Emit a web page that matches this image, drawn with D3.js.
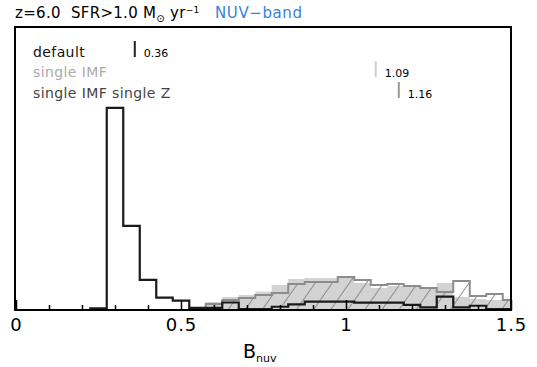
<!DOCTYPE html>
<html>
<head>
<meta charset="utf-8">
<script src="https://cdn.jsdelivr.net/npm/d3@7"></script>
<style>
  body { margin: 0; background: #fff; }
  text { font-family: "DejaVu Sans", sans-serif; }
</style>
</head>
<body>
<svg id="chart" width="537" height="367"></svg>
<script>
// bin centres (width 0.05)
var binCenters = [0.25, 0.30, 0.35, 0.40, 0.45, 0.50, 0.55, 0.60, 0.65, 0.70, 0.75, 0.80, 0.85,
                  0.90, 0.95, 1.00, 1.05, 1.10, 1.15, 1.20, 1.25, 1.30, 1.35, 1.40, 1.45, 1.50];
// default (black line)
var defaultVals = [0.8, 100, 41.6, 14.9, 6.1, 4.6, 1.1, 1.1, 3.7, 0.5, 0.5, 1.6, 2.8,
                   4.1, 4.1, 4.1, 3.6, 3.6, 3.6, 2.5, 1.3, 6.6, 1.3, 2.1, 0.5, 0.5];
// single IMF (light grey fill)
var singleImfVals = [0, 0, 0, 0, 0, 0, 0.5, 4, 6.4, 7.4, 9.2, 12.4, 15.3,
                     15.8, 15.8, 16.6, 13.4, 10.9, 11.9, 11.4, 10.4, 13.4, 6.4, 5.4, 5, 4.5];
// single IMF single Z (hatched)
var singleZVals = [0, 0, 0, 0, 0, 0, 0.7, 3, 5, 5.9, 7.4, 8.4, 12.9,
                   13.9, 13.9, 16.3, 14.9, 12.4, 12.9, 11.9, 10.9, 8.9, 14.4, 6.9, 7.9, 5];
var medians = [0.36, 1.09, 1.16];
var legendNames = ["default", "single IMF", "single IMF single Z"];
var legendColors = ["#111", "#aaa", "#444"];
var markerColors = ["#222", "#d0d0d0", "#999"];
var xTicksMajor = [0, 0.5, 1, 1.5];
var binW = 0.05;

var svg = d3.select("#chart");
var x = d3.scaleLinear().domain([0, 1.5]).range([16, 511]);
var y = d3.scaleLinear().domain([0, 140]).range([310, 27]);

var defs = svg.append("defs");
defs.append("clipPath").attr("id", "plotclip")
  .append("rect").attr("x", 16).attr("y", 27).attr("width", 495).attr("height", 283);
var pat = defs.append("pattern").attr("id", "hatch")
  .attr("patternUnits", "userSpaceOnUse").attr("width", 14).attr("height", 14)
  .attr("patternTransform", "rotate(35)");
pat.append("line").attr("x1", 0).attr("y1", 0).attr("x2", 0).attr("y2", 14)
  .attr("stroke", "#7f7f7f").attr("stroke-width", 1.7);

function stepPoints(vals) {
  var pts = [[binCenters[0] - binW / 2, 0]];
  for (let i = 0; i < binCenters.length; i++) {
    pts.push([binCenters[i] - binW / 2, vals[i]]);
    pts.push([binCenters[i] + binW / 2, vals[i]]);
  }
  pts.push([binCenters[binCenters.length - 1] + binW / 2, 0]);
  return pts;
}
var line = d3.line().x(d => x(d[0])).y(d => y(d[1]));

var g = svg.append("g").attr("clip-path", "url(#plotclip)");

g.append("path").attr("d", line(stepPoints(singleImfVals)))
  .attr("fill", "#d3d3d3").attr("stroke", "none");
g.append("path").attr("d", line(stepPoints(singleZVals)))
  .attr("fill", "url(#hatch)").attr("stroke", "#8c8c8c").attr("stroke-width", 2);
g.append("path").attr("d", line(stepPoints(defaultVals)))
  .attr("fill", "none").attr("stroke", "#1a1a1a").attr("stroke-width", 2.2);

// axis ticks (inside, pointing up)
var minor = d3.range(0, 1.51, 0.1).filter(v => Math.abs(v * 2 - Math.round(v * 2)) > 1e-6);
svg.append("g").attr("transform", "translate(0,310)")
  .call(d3.axisBottom(x).tickValues(minor).tickSize(-5).tickFormat(""))
  .call(a => a.select(".domain").remove())
  .selectAll("line").attr("stroke", "#000").attr("stroke-width", 1.5);
var xa = svg.append("g").attr("transform", "translate(0,310)")
  .call(d3.axisBottom(x).tickValues(xTicksMajor).tickSize(-10).tickPadding(8)
    .tickFormat(d => d === 0 ? "0" : d3.format("")(d)));
xa.select(".domain").remove();
xa.selectAll("line").attr("stroke", "#000").attr("stroke-width", 1.5);
xa.selectAll("text").attr("font-size", 18).attr("letter-spacing", 1).attr("fill", "#000")
  .style("font-family", "DejaVu Sans, sans-serif");

// frame
svg.append("rect").attr("x", 15).attr("y", 27).attr("width", 496).attr("height", 283)
  .attr("fill", "none").attr("stroke", "#000").attr("stroke-width", 2);

// legend + median markers
var rowY = [57, 77, 98];
legendNames.forEach(function (name, i) {
  svg.append("text").attr("x", 33).attr("y", rowY[i]).attr("font-size", 14)
    .attr("letter-spacing", 0.4).attr("fill", legendColors[i]).text(name);
  svg.append("line").attr("x1", x(medians[i])).attr("x2", x(medians[i]))
    .attr("y1", rowY[i] - 16).attr("y2", rowY[i])
    .attr("stroke", markerColors[i]).attr("stroke-width", 2);
  svg.append("text").attr("x", x(medians[i]) + 9).attr("y", rowY[i])
    .attr("font-size", 11).attr("fill", "#000").text(d3.format(".2f")(medians[i]));
});

// title
var t = svg.append("text").attr("x", 15).attr("y", 18).attr("font-size", 15)
  .attr("letter-spacing", 0.3).attr("fill", "#000").style("white-space", "pre");
t.append("tspan").text("z=6.0  SFR>1.0 M");
t.append("tspan").attr("font-size", 10).attr("dy", 4).text("\u2299");
t.append("tspan").attr("dy", -4).text(" yr");
t.append("tspan").attr("font-size", 9).attr("dy", -5).text("\u22121");
svg.append("text").attr("x", 215).attr("y", 18).attr("font-size", 15)
  .attr("letter-spacing", 0.6).attr("fill", "#3a7fd8").text("NUV\u2212band");

// x label
var xl = svg.append("text").attr("x", 243).attr("y", 358).attr("font-size", 19).attr("fill", "#000");
xl.append("tspan").text("B");
xl.append("tspan").attr("font-size", 11).attr("dy", 4).text("nuv");
</script>
</body>
</html>
